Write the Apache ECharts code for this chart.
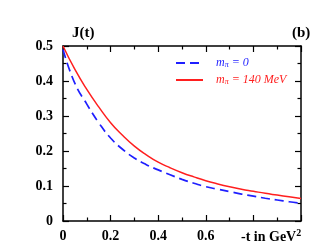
<!DOCTYPE html>
<html><head><meta charset="utf-8">
<script src="https://cdn.jsdelivr.net/npm/echarts@6/dist/echarts.min.js"></script>
<style>html,body{margin:0;padding:0;background:#fff}#c{width:327px;height:252px}</style>
</head><body><div id="c"></div>
<script>
const tValues = [0, 0.05, 0.1, 0.15, 0.2, 0.25, 0.3, 0.35, 0.4, 0.45, 0.5, 0.55, 0.6, 0.65, 0.7, 0.75, 0.8, 0.85, 0.9, 0.95, 1.0];
const jRed = [0.5, 0.433, 0.376, 0.326, 0.281, 0.245, 0.214, 0.189, 0.168, 0.152, 0.138, 0.126, 0.115, 0.106, 0.098, 0.091, 0.085, 0.079, 0.074, 0.069, 0.064];
const jBlue = [0.49, 0.393, 0.334, 0.281, 0.237, 0.205, 0.180, 0.161, 0.146, 0.132, 0.119, 0.108, 0.098, 0.091, 0.084, 0.077, 0.071, 0.065, 0.060, 0.055, 0.051];
const xTicks = [0, 0.2, 0.4, 0.6];
const yTicks = [0, 0.1, 0.2, 0.3, 0.4, 0.5];
const names = ['m0', 'm140'];
const legendText = {m0: '{i|m}{s|π}{i| = 0}', m140: '{i|m}{s|π}{i| = 140 MeV}'};

const pairs = (t, v) => t.map((x, i) => [x, v[i]]);
const font = '"Liberation Serif", "DejaVu Serif", serif';
const axisLine = {show: true, onZero: false, lineStyle: {color: '#000', width: 1.5}};
const tick = {inside: true, length: 6, lineStyle: {color: '#000', width: 1.2}};
const minor = {show: true, splitNumber: 2, length: 3.5, lineStyle: {color: '#000', width: 1.2}};
const richFor = c => ({
  i: {fontFamily: font, fontStyle: 'italic', fontSize: 12, color: c, lineHeight: 12},
  s: {fontFamily: font, fontStyle: 'italic', fontSize: 8, color: c, verticalAlign: 'bottom', lineHeight: 12, padding: [5, 0, 0, 0]}
});

const chart = echarts.init(document.getElementById('c'), null, {renderer: 'canvas'});
chart.setOption({
  animation: false,
  backgroundColor: '#fff',
  grid: {left: 63, right: 26, top: 46, bottom: 31, containLabel: false},
  title: [
    {text: 'J(t)', left: 67, top: 21, textStyle: {fontFamily: font, fontWeight: 'bold', fontSize: 15, color: '#000'}},
    {text: '(b)', left: 287, top: 21, textStyle: {fontFamily: font, fontWeight: 'bold', fontSize: 15, color: '#000'}}
  ],
  legend: {
    left: 175, top: 56, orient: 'vertical', itemWidth: 27, itemHeight: 10, itemGap: 4, padding: 0,
    itemStyle: {opacity: 0},
    data: [
      {name: names[0], textStyle: {rich: richFor('#1f1fff')}},
      {name: names[1], textStyle: {rich: richFor('#ff1f1f')}}
    ],
    formatter: n => legendText[n],
    textStyle: {fontFamily: font, fontStyle: 'italic', fontSize: 12, padding: [0, 0, 0, 8]}
  },
  xAxis: [
    {type: 'value', min: 0, max: 1, interval: 0.2, position: 'bottom',
     axisLine, axisTick: tick, minorTick: minor, splitLine: {show: false},
     axisLabel: {margin: 8, fontFamily: font, fontWeight: 'bold', fontSize: 14, color: '#000',
       formatter: v => { const r = Math.round(v * 10) / 10; return xTicks.indexOf(r) >= 0 ? String(r) : ''; }}},
    {type: 'value', min: 0, max: 1, interval: 0.2, position: 'top',
     axisLine, axisTick: tick, minorTick: minor, splitLine: {show: false}, axisLabel: {show: false}}
  ],
  yAxis: [
    {type: 'value', min: 0, max: 0.5, interval: 0.1, position: 'left',
     axisLine, axisTick: tick, minorTick: minor, splitLine: {show: false},
     axisLabel: {margin: 10, fontFamily: font, fontWeight: 'bold', fontSize: 14, color: '#000',
       formatter: v => { const r = Math.round(v * 10) / 10; return yTicks.indexOf(r) >= 0 ? String(r) : ''; }}},
    {type: 'value', min: 0, max: 0.5, interval: 0.1, position: 'right',
     axisLine, axisTick: tick, minorTick: minor, splitLine: {show: false}, axisLabel: {show: false}}
  ],
  graphic: [
    {type: 'text', left: 241, top: 228, style: {
      text: '{a|-t in GeV}{b|2}',
      rich: {
        a: {fontFamily: font, fontWeight: 'bold', fontSize: 14, fill: '#000'},
        b: {fontFamily: font, fontWeight: 'bold', fontSize: 10, fill: '#000', verticalAlign: 'top', padding: [0, 0, 8, 0]}
      }}}
  ],
  series: [
    {name: names[0], type: 'line', xAxisIndex: 0, yAxisIndex: 0, smooth: 0.5, symbol: 'none',
     data: pairs(tValues, jBlue), lineStyle: {color: '#1f1fff', width: 1.7, type: [9, 5]}, itemStyle: {color: '#1f1fff'}},
    {name: names[1], type: 'line', xAxisIndex: 0, yAxisIndex: 0, smooth: 0.5, symbol: 'none',
     data: pairs(tValues, jRed), lineStyle: {color: '#ff1f1f', width: 1.5}, itemStyle: {color: '#ff1f1f'}}
  ]
});
</script></body></html>
